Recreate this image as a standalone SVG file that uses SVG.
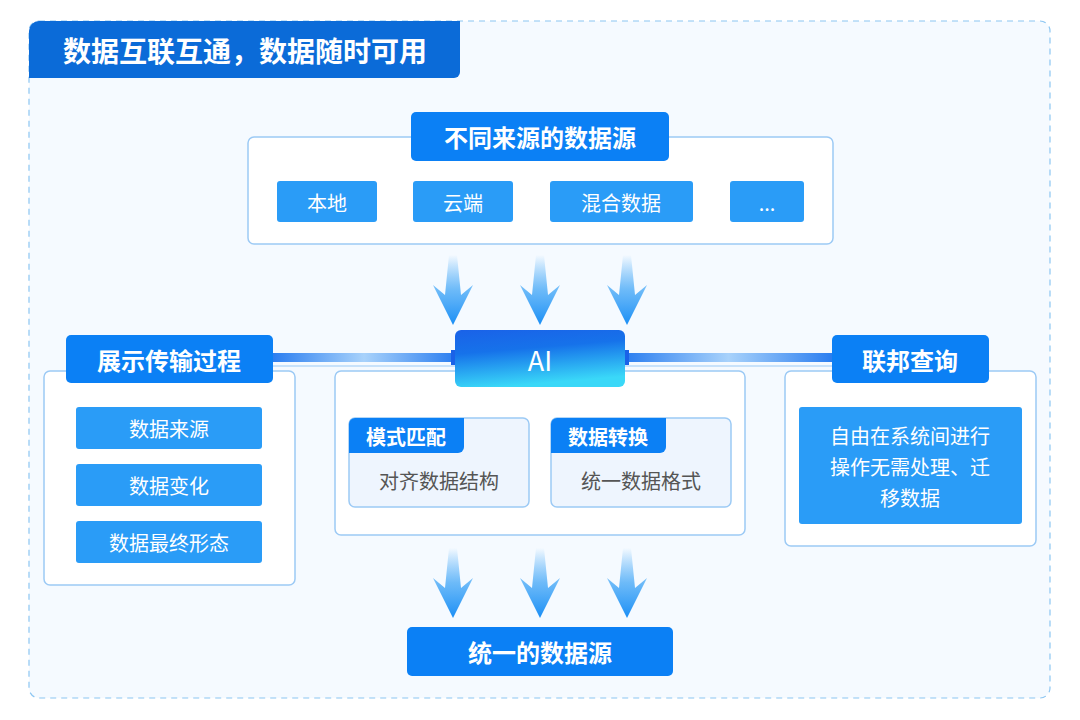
<svg xmlns="http://www.w3.org/2000/svg" width="1080" height="720" viewBox="0 0 1080 720">
<style>
text{font-family:"Noto Sans CJK SC","Noto Sans",sans-serif;text-anchor:middle;dominant-baseline:central}
.hdr{fill:#0b80f5}
.ht{fill:#fff;font-size:24px;font-weight:bold}
.frame{fill:#fff;stroke:#9ccaf5;stroke-width:1.5}
.item{fill:#2a9cf7}
.it{fill:#fff;font-size:20px}
.sub{fill:#eef5fe;stroke:#9ccaf5;stroke-width:1.5}
.st{fill:#555;font-size:20px}
</style>
<defs>
<linearGradient id="ai" x1="0" y1="0" x2="0.25" y2="1">
<stop offset="0" stop-color="#1a62e8"/><stop offset="0.4" stop-color="#1672ea"/><stop offset="1" stop-color="#3ad8f8"/>
</linearGradient>
<linearGradient id="arr" x1="0" y1="0" x2="0" y2="1">
<stop offset="0" stop-color="#2a9cf7" stop-opacity="0"/><stop offset="0.5" stop-color="#4aaaf7" stop-opacity="0.8"/><stop offset="1" stop-color="#1a8ef5"/>
</linearGradient>
<linearGradient id="bar" x1="0" y1="0" x2="1" y2="0">
<stop offset="0" stop-color="#2b7ef0"/><stop offset="0.5" stop-color="#a8d2fb"/><stop offset="1" stop-color="#2b7ef0"/>
</linearGradient>
<path id="a" d="M-4,0 L4,0 L8,40 L20,30 L0,70 L-20,30 L-8,40 Z" fill="url(#arr)"/>
</defs>
<rect width="1080" height="720" fill="#fff"/>
<rect x="29" y="21" width="1021" height="677" rx="10" fill="#f5faff" stroke="#8cc6f2" stroke-width="1.2" stroke-dasharray="6 5"/>
<g id="title"><path d="M29,31 a10,10 0 0 1 10,-10 H460 V72 a6,6 0 0 1 -6,6 H29 Z" fill="#0b6bd8"/>
<text x="245" y="50" fill="#fff" font-size="28" font-weight="bold">数据互联互通，数据随时可用</text></g>

<g id="connectors">
<rect x="273" y="353" width="182" height="9" fill="url(#bar)"/>
<rect x="625" y="353" width="207" height="9" fill="url(#bar)"/>
<line x1="273" y1="366" x2="455" y2="366" stroke="#9ccaf5" stroke-width="1.2"/>
<line x1="625" y1="366" x2="832" y2="366" stroke="#9ccaf5" stroke-width="1.2"/>
<use href="#a" x="453" y="255"/><use href="#a" x="540" y="255"/><use href="#a" x="627" y="255"/>
<use href="#a" x="453" y="548"/><use href="#a" x="540" y="548"/><use href="#a" x="627" y="548"/>
</g>

<g id="sources">
<rect class="frame" x="248" y="137" width="585" height="107" rx="6"/>
<rect class="hdr" x="411" y="112" width="258" height="49" rx="5"/>
<text class="ht" x="540" y="136">不同来源的数据源</text>
<rect class="item" x="277" y="181" width="100" height="41" rx="3"/><text class="it" x="327" y="202">本地</text>
<rect class="item" x="413" y="181" width="100" height="41" rx="3"/><text class="it" x="463" y="202">云端</text>
<rect class="item" x="550" y="181" width="143" height="41" rx="3"/><text class="it" x="621" y="202">混合数据</text>
<rect class="item" x="730" y="181" width="74" height="41" rx="3"/><text class="it" x="767" y="202">...</text>
</g>

<g id="left">
<rect class="frame" x="44" y="371" width="251" height="214" rx="6"/>
<rect class="hdr" x="66" y="335" width="207" height="48" rx="5"/>
<text class="ht" x="169" y="359">展示传输过程</text>
<rect class="item" x="76" y="407" width="186" height="42" rx="3"/><text class="it" x="169" y="428">数据来源</text>
<rect class="item" x="76" y="464" width="186" height="42" rx="3"/><text class="it" x="169" y="485">数据变化</text>
<rect class="item" x="76" y="521" width="186" height="42" rx="3"/><text class="it" x="169" y="542">数据最终形态</text>
</g>

<g id="middle">
<rect class="frame" x="335" y="371" width="410" height="164" rx="6"/>
<rect class="sub" x="349" y="418" width="180" height="89" rx="6"/>
<path d="M349,424 a6,6 0 0 1 6,-6 H464 V447 a6,6 0 0 1 -6,6 H349 Z" class="hdr"/>
<text x="406" y="436" fill="#fff" font-size="20" font-weight="bold">模式匹配</text>
<text class="st" x="439" y="480">对齐数据结构</text>
<rect class="sub" x="551" y="418" width="180" height="89" rx="6"/>
<path d="M551,424 a6,6 0 0 1 6,-6 H666 V447 a6,6 0 0 1 -6,6 H551 Z" class="hdr"/>
<text x="608" y="436" fill="#fff" font-size="20" font-weight="bold">数据转换</text>
<text class="st" x="641" y="480">统一数据格式</text>
</g>

<g id="ai-node">
<rect x="451" y="350" width="8" height="15" fill="#1a62e8"/><rect x="621" y="350" width="8" height="15" fill="#1a62e8"/>
<rect x="455" y="330" width="170" height="57" rx="6" fill="url(#ai)"/>
<text x="540" y="359" fill="#fff" font-size="27" font-family="'Noto Sans',sans-serif">AI</text>
</g>

<g id="right">
<rect class="frame" x="785" y="371" width="251" height="175" rx="6"/>
<rect class="hdr" x="832" y="335" width="157" height="48" rx="5"/>
<text class="ht" x="910" y="359">联邦查询</text>
<rect class="item" x="799" y="407" width="223" height="117" rx="3"/>
<text class="it" x="910" y="435">自由在系统间进行</text>
<text class="it" x="910" y="466">操作无需处理、迁</text>
<text class="it" x="910" y="497">移数据</text>
</g>

<g id="bottom">
<rect class="hdr" x="407" y="627" width="266" height="49" rx="5"/>
<text class="ht" x="540" y="651">统一的数据源</text>
</g>
</svg>
